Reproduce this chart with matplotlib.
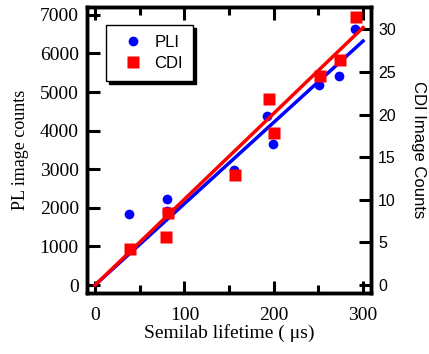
import numpy as np
import matplotlib
matplotlib.use("Agg")
import matplotlib.pyplot as plt

# lifetime (us) and image counts
pli_x = [38, 80, 80, 156, 193, 199, 251, 273, 291]
pli_y = [1840, 2230, 1920, 2980, 4380, 3650, 5180, 5410, 6630]

cdi_x = [39, 79, 82, 157, 195, 200, 252, 274, 292]
cdi_y = [4.2, 5.6, 8.4, 12.9, 21.8, 17.8, 24.5, 26.4, 31.4]

# fitted lines (end points)
fit_x = [0, 300]
pli_fit = [0, 6320]
cdi_fit = [0, 30.2]

serif = "Liberation Serif"
sans = "Liberation Sans"

fig = plt.figure(figsize=(4.29, 3.54), dpi=100)
ax = fig.add_axes([0.203, 0.172, 0.662, 0.808])
ax2 = ax.twinx()

ax.plot(pli_x, pli_y, "o", color="#0000ff", ms=7, mec="none", label="PLI")
ax.plot(fit_x, pli_fit, color="#0000ff", lw=2.5)
ax2.plot(cdi_x, cdi_y, "s", color="#ff0000", ms=8, mec="none", label="CDI")
ax2.plot(fit_x, cdi_fit, color="#ff0000", lw=2.5)

ax.set_xlim(-9, 309)
ax.set_ylim(-210, 7200)
ax2.set_ylim(-0.94, 32.6)

ax.set_xticks([0, 100, 200, 300])
ax.set_xticks([50, 150, 250], minor=True)
ax.set_yticks(np.arange(0, 7001, 1000))
ax2.set_yticks(np.arange(0, 31, 5))

for a in (ax, ax2):
    for s in a.spines.values():
        s.set_linewidth(2.5)

ax.tick_params(axis="x", which="major", direction="in", top=True, length=9, width=2.2, pad=10)
ax.tick_params(axis="x", which="minor", direction="in", top=True, length=6, width=2.2)
ax.tick_params(axis="y", direction="in", length=9, width=2.2, pad=6)
ax2.tick_params(axis="y", direction="in", length=9, width=2.2, pad=5)

for lab in ax.get_xticklabels() + ax.get_yticklabels():
    lab.set_fontfamily(serif)
    lab.set_fontsize(14)
for lab in ax2.get_yticklabels():
    lab.set_fontfamily(sans)
    lab.set_fontsize(11.5)

ax.set_xlabel("Semilab lifetime ( \u03bcs)", fontfamily=serif, fontsize=14, labelpad=0)
ax.set_ylabel("PL image counts", fontfamily=serif, fontsize=13, labelpad=8)
ax2.set_ylabel("CDI Image Counts", fontfamily=sans, fontsize=12, rotation=270, labelpad=22)

h1, l1 = ax.get_legend_handles_labels()
h2, l2 = ax2.get_legend_handles_labels()
leg = ax2.legend(h1 + h2, l1 + l2, loc="upper left", bbox_to_anchor=(0.067, 0.937),
                 borderaxespad=0, prop={"family": sans, "size": 12}, fancybox=False,
                 shadow={"color": "black", "alpha": 1}, framealpha=1, edgecolor="black",
                 handletextpad=0.3, borderpad=0.6, labelspacing=0.35)
leg.get_frame().set_linewidth(1.0)

fig.savefig("out.png", dpi=100)
